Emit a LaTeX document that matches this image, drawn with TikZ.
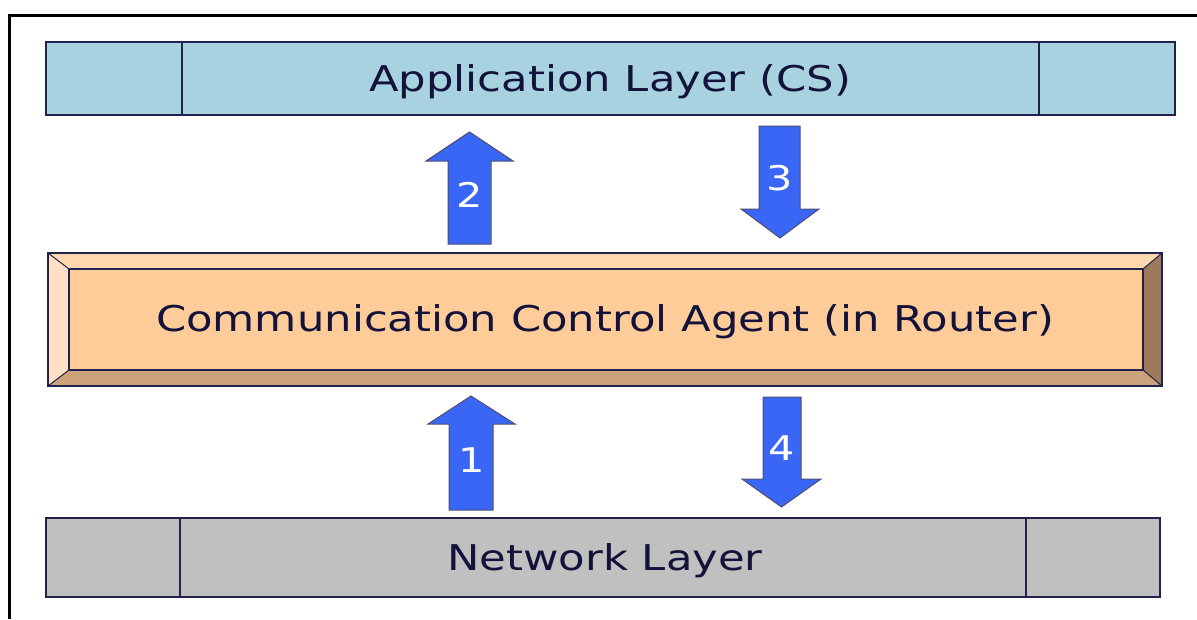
\documentclass[tikz,border=0pt]{standalone}
\usepackage{fontspec}
\setmainfont{DejaVu Sans}
\newfontfamily\widefont[FakeStretch=1.22]{DejaVu Sans}
\definecolor{appblue}{HTML}{A8D2DF}
\definecolor{netgray}{HTML}{C0C0C0}
\definecolor{navy}{HTML}{22224E}
\definecolor{txt}{HTML}{12123A}
\definecolor{arrowblue}{HTML}{3A66F5}
\definecolor{agentin}{HTML}{FECC98}
\definecolor{bevtop}{HTML}{FDD8AE}
\definecolor{bevleft}{HTML}{FFE0C4}
\definecolor{bevbot}{HTML}{CCA27A}
\definecolor{bevright}{HTML}{9C7A5A}
\tikzset{
  layerbar/.style={draw=navy, line width=1.6pt},
  layertext/.style={text=txt, anchor=base, inner sep=0pt, font=\widefont\fontsize{35.5}{42}\selectfont},
  blockarrow/.style={fill=arrowblue, draw=navy!80, line width=1pt, line join=miter},
  arrowlabel/.style={text=white, anchor=base, inner sep=0pt, font=\widefont\fontsize{34}{40}\selectfont},
}
\begin{document}
\begin{tikzpicture}[x=1pt,y=-1pt]
\useasboundingbox (0,0) rectangle (1197,619);
% outer frame
\draw[line width=3pt] (9,619) -- (9,15) -- (1197,15);
% application layer
\draw[layerbar, fill=appblue] (46,42) rectangle (1175,115);
\draw[layerbar] (182,42) -- (182,115) (1039,42) -- (1039,115);
\node[layertext] (app) at (610,91) {Application Layer (CS)};
% network layer
\draw[layerbar, fill=netgray] (46,518) rectangle (1160,597);
\draw[layerbar] (180,518) -- (180,597) (1026,518) -- (1026,597);
\node[layertext] (net) at (605,570) {Network Layer};
% agent bevel box
\fill[bevtop] (48,253) -- (1162,253) -- (1143,269) -- (69,269) -- cycle;
\fill[bevleft] (48,253) -- (69,269) -- (69,370) -- (48,386) -- cycle;
\fill[bevbot] (48,386) -- (69,370) -- (1143,370) -- (1162,386) -- cycle;
\fill[bevright] (1162,253) -- (1143,269) -- (1143,370) -- (1162,386) -- cycle;
\draw[navy, line width=1.2pt, fill=agentin] (69,269) rectangle (1143,370);
\draw[navy, line width=1pt] (48,253) -- (69,269) (1162,253) -- (1143,269)
  (48,386) -- (69,370) (1162,386) -- (1143,370);
\draw[navy, line width=1.6pt] (48,253) rectangle (1162,386);
\node[layertext] (agent) at (605,331) {Communication Control Agent (in Router)};
% arrow 2 (up)
\draw[blockarrow] (448,244) -- (448,161) -- (426,161) -- (469.5,132) -- (513,161) -- (491,161) -- (491,244) -- cycle;
\node[arrowlabel] (l2) at (470,207) {2};
% arrow 3 (down)
\draw[blockarrow] (759,126) -- (759,209) -- (741,209) -- (780,238) -- (819,209) -- (800,209) -- (800,126) -- cycle;
\node[arrowlabel] (l3) at (780,190) {3};
% arrow 1 (up)
\draw[blockarrow] (449,510) -- (449,424) -- (428,424) -- (471,396) -- (515,424) -- (493,424) -- (493,510) -- cycle;
\node[arrowlabel] (l1) at (472,472) {1};
% arrow 4 (down)
\draw[blockarrow] (763,397) -- (763,479) -- (742,479) -- (781.5,507) -- (821,479) -- (801,479) -- (801,397) -- cycle;
\node[arrowlabel] (l4) at (782,460) {4};
\end{tikzpicture}
\end{document}
